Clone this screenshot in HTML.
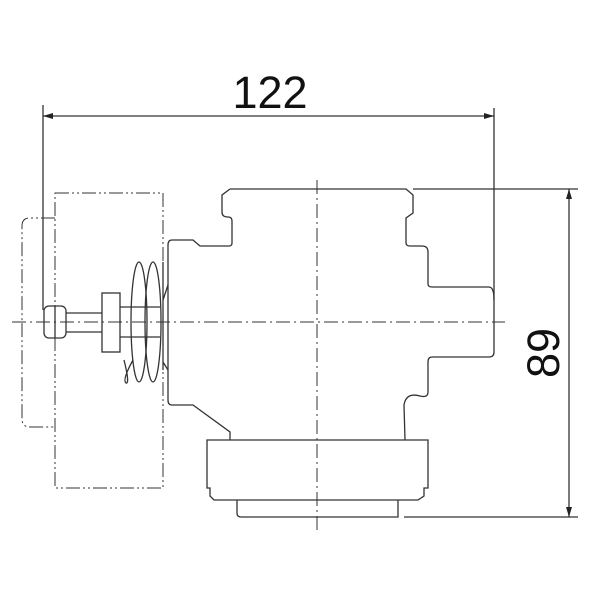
<!DOCTYPE html>
<html><head><style>html,body{margin:0;padding:0;background:#fff}</style></head>
<body>
<svg width="600" height="600" viewBox="0 0 600 600" xmlns="http://www.w3.org/2000/svg">
<defs>
<marker id="a" viewBox="0 0 10 6" refX="10" refY="3" markerWidth="10" markerHeight="6" orient="auto-start-reverse" markerUnits="userSpaceOnUse"><path d="M0,0 L10,3 L0,6 z" fill="#222"/></marker>
</defs>
<g fill="none" stroke="#333" stroke-width="1.3">
<!-- dimension 122 -->
<line x1="43" y1="105" x2="43" y2="310"/>
<line x1="494" y1="108" x2="494" y2="300"/>
<line x1="43" y1="116" x2="494" y2="116" marker-start="url(#a)" marker-end="url(#a)"/>
<!-- dimension 89 -->
<line x1="413" y1="189" x2="578" y2="189"/>
<line x1="404" y1="517" x2="578" y2="517"/>
<line x1="569" y1="189" x2="569" y2="517" marker-start="url(#a)" marker-end="url(#a)"/>
<!-- centerlines -->
<line x1="12" y1="322" x2="505" y2="322" stroke-dasharray="14,4,2,4" stroke-width="1"/>
<line x1="317" y1="180" x2="317" y2="530" stroke-dasharray="14,4,2,4" stroke-width="1"/>
<!-- phantom boxes -->
<rect x="55" y="193" width="108" height="295" stroke-dasharray="14,3,2,3,2,3" stroke-width="1"/>
<path d="M55,218 H30 Q22,218 22,226 V419 Q22,427 30,427 H55" stroke-dasharray="14,3,2,3,2,3" stroke-width="1"/>
<!-- body -->
<path d="M230,189 H406 L413,195 V213 L406,218 V243 Q406,246 410,246 H422 Q428,246 428,252 V284 Q428,287 432,287 H489 Q494,287 494,300 V352 Q494,357 489,357 H432 Q428,357 428,362 V392 Q428,398 420,396 Q406,392 404,405 L405,440"/>
<path d="M230,189 L222,195 V212 Q222,217 228,217 Q232,217 232,221 V243 Q232,246 229,246 H200 L193,240 H172 Q168,240 168,245 V400 Q168,405 172,405 H193 L230,432 V440"/>
<path d="M207,440 H428 V488 L424,488 V496 L418,500 H214 L210,496 V488 L207,488 Z"/>
<path d="M237,500 V513 Q237,517 241,517 H398 V500"/>
<!-- plate -->
<path d="M163,262 V370 M163,300 L168,285 M163,362 L168,370"/>
<!-- pin -->
<rect x="44" y="306" width="22" height="32" rx="5"/>
<line x1="55" y1="306" x2="55" y2="338"/>
<path d="M66,313 H102 M66,332 H102"/>
<rect x="102" y="293" width="18" height="59"/>
<path d="M120,307 H160 M120,337 H160"/>
<!-- spring -->
<ellipse cx="139" cy="322" rx="8" ry="60"/>
<ellipse cx="153" cy="322" rx="8" ry="60"/>
<path d="M133,360 Q122,380 126,383 Q130,384 124,360"/>
</g>
<text x="270" y="108" font-family="Liberation Sans, sans-serif" font-size="45" text-anchor="middle" fill="#111">122</text>
<text transform="translate(559,353) rotate(-90)" font-family="Liberation Sans, sans-serif" font-size="45" text-anchor="middle" fill="#111">89</text>
</svg>
</body></html>
